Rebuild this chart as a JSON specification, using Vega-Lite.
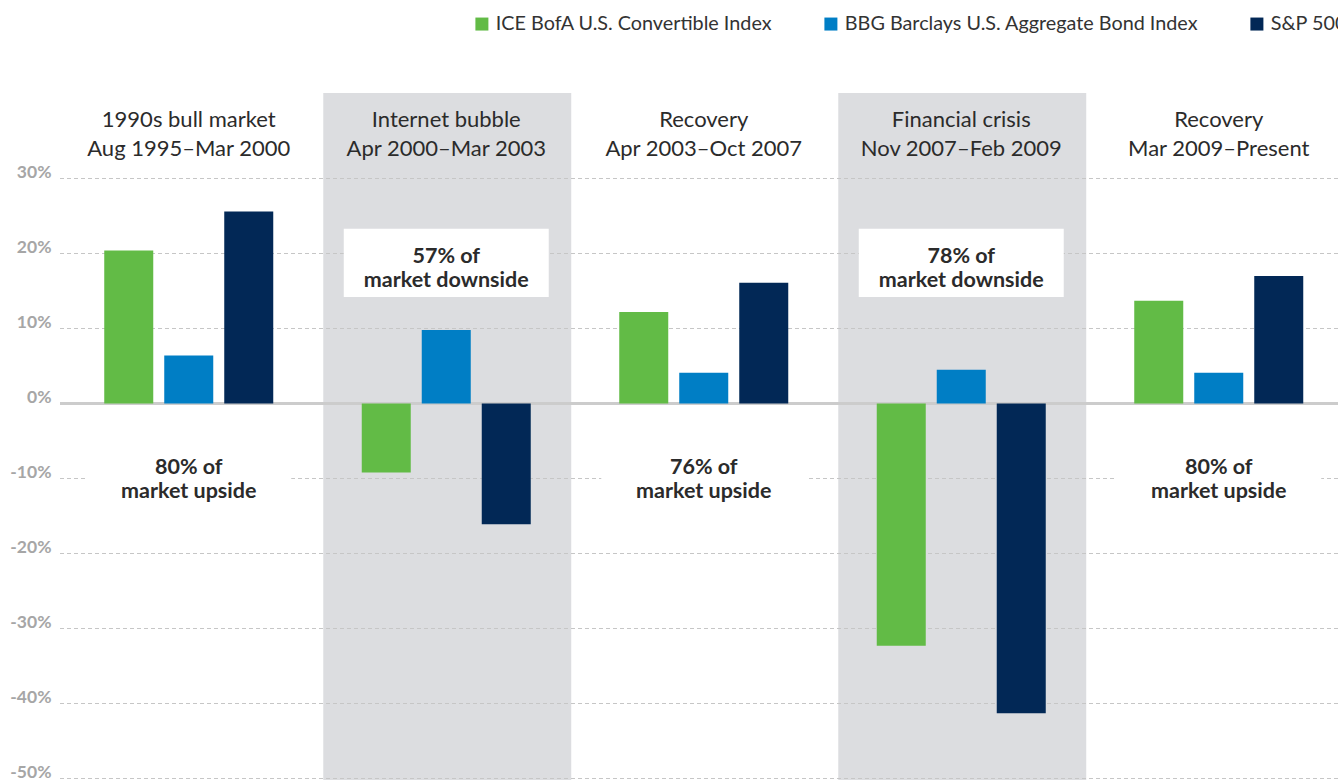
{
  "$schema": "https://vega.github.io/schema/vega-lite/v6.json",
  "width": 1278,
  "height": 687,
  "autosize": {"type": "none"},
  "padding": {"left": 60, "top": 93, "right": 0, "bottom": 0},
  "background": "white",
  "config": {
    "view": {"stroke": null},
    "font": "Lato",
    "axisX": {"disable": true}
  },
  "datasets": {
    "returns": [
      {"period": "Aug 1995–Mar 2000", "series": "ICE BofA U.S. Convertible Index", "value": 20.4},
      {"period": "Aug 1995–Mar 2000", "series": "BBG Barclays U.S. Aggregate Bond Index", "value": 6.4},
      {"period": "Aug 1995–Mar 2000", "series": "S&P 500", "value": 25.6},
      {"period": "Apr 2000–Mar 2003", "series": "ICE BofA U.S. Convertible Index", "value": -9.2},
      {"period": "Apr 2000–Mar 2003", "series": "BBG Barclays U.S. Aggregate Bond Index", "value": 9.8},
      {"period": "Apr 2000–Mar 2003", "series": "S&P 500", "value": -16.1},
      {"period": "Apr 2003–Oct 2007", "series": "ICE BofA U.S. Convertible Index", "value": 12.2},
      {"period": "Apr 2003–Oct 2007", "series": "BBG Barclays U.S. Aggregate Bond Index", "value": 4.1},
      {"period": "Apr 2003–Oct 2007", "series": "S&P 500", "value": 16.1},
      {"period": "Nov 2007–Feb 2009", "series": "ICE BofA U.S. Convertible Index", "value": -32.3},
      {"period": "Nov 2007–Feb 2009", "series": "BBG Barclays U.S. Aggregate Bond Index", "value": 4.5},
      {"period": "Nov 2007–Feb 2009", "series": "S&P 500", "value": -41.3},
      {"period": "Mar 2009–Present", "series": "ICE BofA U.S. Convertible Index", "value": 13.7},
      {"period": "Mar 2009–Present", "series": "BBG Barclays U.S. Aggregate Bond Index", "value": 4.1},
      {"period": "Mar 2009–Present", "series": "S&P 500", "value": 17.0}
    ],
    "periods": [
      {"period": "Aug 1995–Mar 2000", "title": "1990s bull market\nAug 1995–Mar 2000", "kind": "upside", "note": "80% of\nmarket upside"},
      {"period": "Apr 2000–Mar 2003", "title": "Internet bubble\nApr 2000–Mar 2003", "kind": "downside", "note": "57% of\nmarket downside"},
      {"period": "Apr 2003–Oct 2007", "title": "Recovery\nApr 2003–Oct 2007", "kind": "upside", "note": "76% of\nmarket upside"},
      {"period": "Nov 2007–Feb 2009", "title": "Financial crisis\nNov 2007–Feb 2009", "kind": "downside", "note": "78% of\nmarket downside"},
      {"period": "Mar 2009–Present", "title": "Recovery\nMar 2009–Present", "kind": "upside", "note": "80% of\nmarket upside"}
    ],
    "grid": [{"v": 30}, {"v": 20}, {"v": 10}, {"v": -10}, {"v": -20}, {"v": -30}, {"v": -40}, {"v": -50}]
  },
  "layer": [
    {
      "data": {"name": "periods"},
      "transform": [{"filter": "datum.kind === 'downside'"}],
      "mark": {"type": "bar", "color": "#dcdde0", "width": {"band": 0.963}, "xOffset": 1},
      "encoding": {
        "x": {"field": "period", "type": "nominal", "scale": {"domain": ["Aug 1995–Mar 2000", "Apr 2000–Mar 2003", "Apr 2003–Oct 2007", "Nov 2007–Feb 2009", "Mar 2009–Present"], "range": [0, 1287.5], "paddingInner": 0, "paddingOuter": 0}},
        "y": {"datum": 41.4, "title": null},
        "y2": {"datum": -50.2}
      }
    },
    {
      "data": {"name": "grid"},
      "mark": {"type": "rule", "color": "#c6c6c6", "strokeWidth": 1, "strokeDash": [4, 3]},
      "encoding": {"y": {"field": "v", "type": "quantitative", "title": null}}
    },
    {
      "data": {"name": "periods"},
      "transform": [{"filter": "datum.kind === 'upside'"}],
      "mark": {"type": "bar", "color": "white", "width": {"band": 0.796}},
      "encoding": {
        "x": {"field": "period", "type": "nominal"},
        "y": {"datum": -6.5, "title": null},
        "y2": {"datum": -13.5}
      }
    },
    {
      "data": {"name": "periods"},
      "transform": [{"filter": "datum.kind === 'downside'"}],
      "mark": {"type": "bar", "color": "white", "width": {"band": 0.796}},
      "encoding": {
        "x": {"field": "period", "type": "nominal"},
        "y": {"datum": 23.3, "title": null},
        "y2": {"datum": 14.2}
      }
    },
    {
      "data": {"name": "grid"},
      "mark": {"type": "rule", "color": "#cccccc", "strokeWidth": 2},
      "encoding": {"y": {"datum": 0, "title": null}}
    },
    {
      "data": {"name": "returns"},
      "mark": {"type": "bar"},
      "encoding": {
        "x": {"field": "period", "type": "nominal"},
        "xOffset": {"field": "series", "type": "nominal", "scale": {"domain": ["ICE BofA U.S. Convertible Index", "BBG Barclays U.S. Aggregate Bond Index", "S&P 500"], "paddingInner": 0.1833, "paddingOuter": 0.7375}},
        "y": {
          "field": "value", "type": "quantitative", "title": null,
          "scale": {"domain": [-50.2, 41.4], "nice": false, "zero": false},
          "axis": {
            "values": [30, 20, 10, 0, -10, -20, -30, -40, -50],
            "labelExpr": "datum.value + '%'",
            "grid": false, "domain": false, "ticks": false,
            "labelPadding": 9, "labelFontSize": 17.5, "labelFontWeight": "bold",
            "labelColor": "#a6a6a6", "labelBaseline": "alphabetic", "labelOffset": -1.5
          }
        },
        "color": {
          "field": "series", "type": "nominal",
          "scale": {"domain": ["ICE BofA U.S. Convertible Index", "BBG Barclays U.S. Aggregate Bond Index", "S&P 500"], "range": ["#62bb46", "#007ec5", "#022856"]},
          "legend": {
            "orient": "none", "legendX": 412, "legendY": -79, "direction": "horizontal",
            "title": null, "symbolType": "square", "symbolSize": 169, "symbolStrokeWidth": 0,
            "labelFontSize": 19.8, "labelColor": "#333333", "columnPadding": 48, "labelOffset": 4, "padding": 0, "labelLimit": 400
          }
        }
      }
    },
    {
      "data": {"name": "periods"},
      "mark": {"type": "text", "lineBreak": "\n", "align": "center", "baseline": "middle", "fontSize": 22, "lineHeight": 29, "color": "#2b2b2b"},
      "encoding": {
        "x": {"field": "period", "type": "nominal"},
        "y": {"datum": 37.8, "title": null},
        "text": {"field": "title"}
      }
    },
    {
      "data": {"name": "periods"},
      "transform": [{"filter": "datum.kind === 'downside'"}],
      "mark": {"type": "text", "lineBreak": "\n", "align": "center", "baseline": "middle", "fontSize": 21.5, "fontWeight": "bold", "lineHeight": 24, "color": "#2b2b2b"},
      "encoding": {
        "x": {"field": "period", "type": "nominal"},
        "y": {"datum": 19.6, "title": null},
        "text": {"field": "note"}
      }
    },
    {
      "data": {"name": "periods"},
      "transform": [{"filter": "datum.kind === 'upside'"}],
      "mark": {"type": "text", "lineBreak": "\n", "align": "center", "baseline": "middle", "fontSize": 21.5, "fontWeight": "bold", "lineHeight": 24, "color": "#2b2b2b"},
      "encoding": {
        "x": {"field": "period", "type": "nominal"},
        "y": {"datum": -8.6, "title": null},
        "text": {"field": "note"}
      }
    }
  ]
}
